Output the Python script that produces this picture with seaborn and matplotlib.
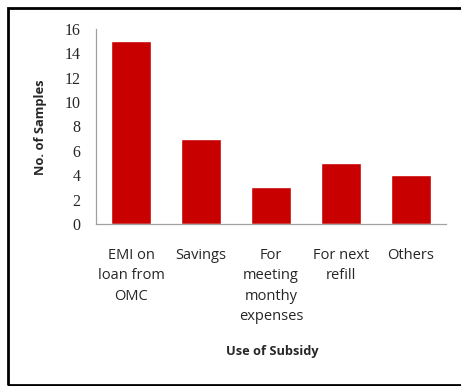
import matplotlib
matplotlib.use("Agg")
import matplotlib.pyplot as plt
import seaborn as sns
import pandas as pd
from matplotlib.patches import Rectangle

categories = ["EMI on\nloan from\nOMC", "Savings", "For\nmeeting\nmonthy\nexpenses", "For next\nrefill", "Others"]
samples = [15, 7, 3, 5, 4]
y_ticks = [0, 2, 4, 6, 8, 10, 12, 14, 16]

df = pd.DataFrame({"use": categories, "n": samples})

sns.set_style("white")
W, H = 461, 386
fig = plt.figure(figsize=(W / 100, H / 100), dpi=100)
ax = fig.add_axes([96 / W, 1 - 224 / H, 350 / W, 195 / H])

sns.barplot(data=df, x="use", y="n", color="#C80000", saturation=1,
            width=0.57, ax=ax)

ax.set_xlim(-0.5, 4.5)
ax.set_ylim(0, 16)
ax.set_yticks(y_ticks)
ax.set_yticklabels([str(t) for t in y_ticks], fontfamily="Liberation Serif", fontsize=11.5)
ax.set_xticks(range(len(categories)))
ax.set_xticklabels(categories, fontfamily="Open Sans", fontsize=10.5,
                   linespacing=1.5, va="top", ha="center")
ax.tick_params(axis="x", length=0, pad=17)
ax.tick_params(axis="y", length=0, pad=11)

for side in ["top", "right"]:
    ax.spines[side].set_visible(False)
for side in ["left", "bottom"]:
    ax.spines[side].set_color("#A0A0A0")
    ax.spines[side].set_linewidth(0.9)

ax.set_xlabel("")
ax.set_ylabel("")
fig.text(40 / W, 1 - 127 / H, "No. of Samples", rotation=90, ha="center", va="center",
         fontfamily="Open Sans", fontweight="bold", fontsize=9.3)
fig.text(272 / W, 1 - 352 / H, "Use of Subsidy", ha="center", va="center",
         fontfamily="Open Sans", fontweight="bold", fontsize=9.2)

# outer frame, open on the right
fig.patches.append(Rectangle((7.5 / W, 1 - 384.5 / H), 520 / W, 376.5 / H,
                             transform=fig.transFigure, fill=False,
                             edgecolor="black", linewidth=2.0, clip_on=False))

fig.savefig("out.png", dpi=100)
